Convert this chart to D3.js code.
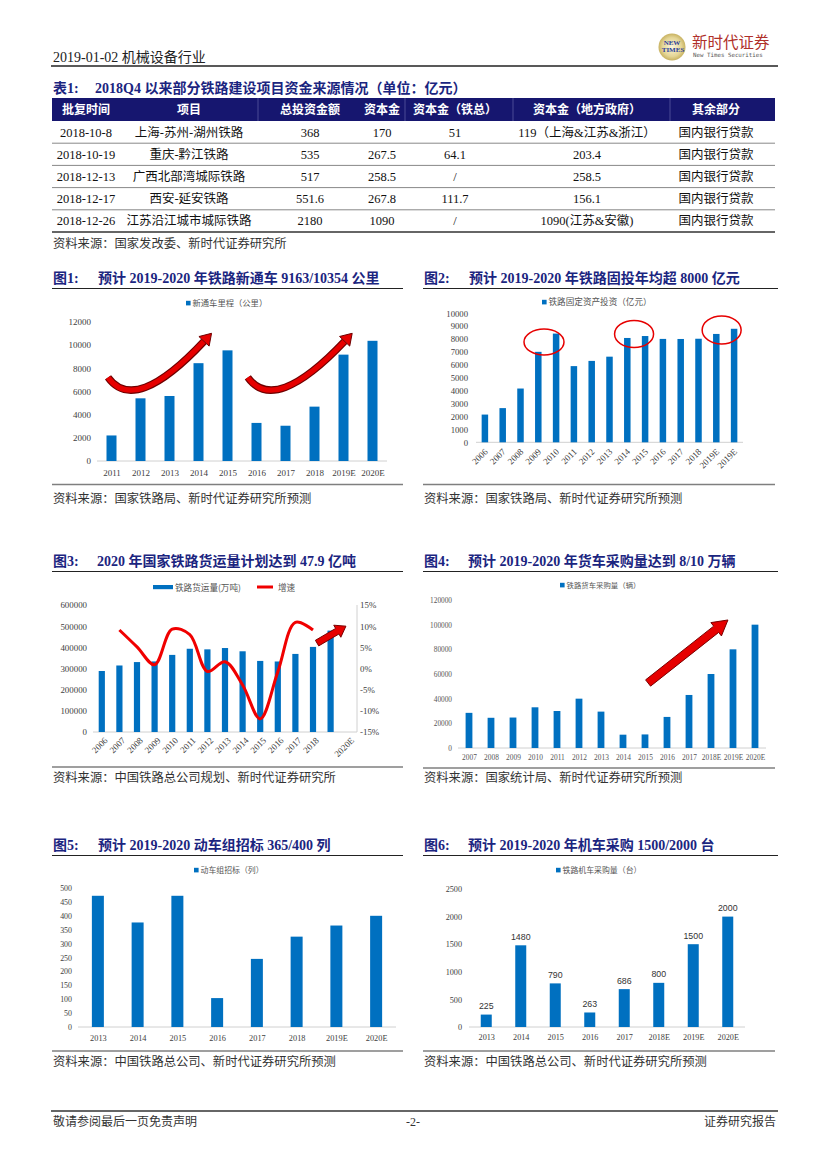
<!DOCTYPE html>
<html>
<head>
<meta charset="utf-8">
<script src="https://cdn.jsdelivr.net/npm/d3@7"></script>
<style>
  body { margin: 0; background: #fff; }
  svg text { font-family: "Liberation Serif", "Noto Sans CJK SC", serif; }
</style>
</head>
<body>
<svg id="page" width="827" height="1169"></svg>
<script>
// ---- data ----
const headerDate = "2019-01-02";
const headerIndustry = "机械设备行业";

const tableColumns = ["批复时间", "项目", "总投资金额", "资本金", "资本金（铁总）", "资本金（地方政府）", "其余部分"];
const tableDates = ["2018-10-8", "2018-10-19", "2018-12-13", "2018-12-17", "2018-12-26"];
const tableProjects = ["上海-苏州-湖州铁路", "重庆-黔江铁路", "广西北部湾城际铁路", "西安-延安铁路", "江苏沿江城市城际铁路"];
const tableTotal = ["368", "535", "517", "551.6", "2180"];
const tableCapital = ["170", "267.5", "258.5", "267.8", "1090"];
const tableCapitalRail = ["51", "64.1", "/", "111.7", "/"];
const tableCapitalLocal = ["119（上海&江苏&浙江）", "203.4", "258.5", "156.1", "1090(江苏&安徽)"];
const tableOther = ["国内银行贷款", "国内银行贷款", "国内银行贷款", "国内银行贷款", "国内银行贷款"];

const mileageYears = ["2011", "2012", "2013", "2014", "2015", "2016", "2017", "2018", "2019E", "2020E"];
const mileageKm = [2200, 5400, 5600, 8427, 9531, 3281, 3038, 4683, 9163, 10354];
const mileageTicks = [0, 2000, 4000, 6000, 8000, 10000, 12000];

const investYears = ["2006", "2007", "2008", "2009", "2010", "2011", "2012", "2013", "2014", "2015", "2016", "2017", "2018", "2019E", "2019E"];
const investValues = [2150, 2650, 4168, 7013, 8427, 5906, 6310, 6638, 8088, 8238, 8015, 8010, 8028, 8400, 8800];
const investTicks = [0, 1000, 2000, 3000, 4000, 5000, 6000, 7000, 8000, 9000, 10000];

const freightYears = ["2006", "2007", "2008", "2009", "2010", "2011", "2012", "2013", "2014", "2015", "2016", "2017", "2018", "", "2020E"];
const freightVolume = [288224, 314237, 330354, 333348, 364271, 393263, 390438, 396697, 381334, 335801, 333186, 368865, 402000, null, 479000];
const freightGrowth = [null, 9.1, 5.1, 0.9, 9.3, 8.0, -0.7, 1.6, -3.9, -11.9, -0.8, 10.9, 9.1, null, null];
const freightTicks = [0, 100000, 200000, 300000, 400000, 500000, 600000];
const growthTicks = [-15, -10, -5, 0, 5, 10, 15];

const wagonYears = ["2007", "2008", "2009", "2010", "2011", "2012", "2013", "2014", "2015", "2016", "2017", "2018E", "2019E", "2020E"];
const wagonCount = [28500, 24500, 24700, 33000, 30000, 40000, 29500, 10800, 11000, 25200, 43000, 60000, 80000, 100000];
const wagonTicks = [0, 20000, 40000, 60000, 80000, 100000, 120000];

const emuYears = ["2013", "2014", "2015", "2016", "2017", "2018", "2019E", "2020E"];
const emuSets = [472, 376, 472, 104, 245, 325, 365, 400];
const emuTicks = [0, 50, 100, 150, 200, 250, 300, 350, 400, 450, 500];

const locoYears = ["2013", "2014", "2015", "2016", "2017", "2018E", "2019E", "2020E"];
const locoCount = [225, 1480, 790, 263, 686, 800, 1500, 2000];
const locoTicks = [0, 500, 1000, 1500, 2000, 2500];

const BLUE = "#0070c0";
const NAVY = "#1b2580";
const SANS = '"Liberation Sans", "Noto Sans CJK SC", sans-serif';

const svg = d3.select("#page");

// ---- page header ----
svg.append("text").attr("x", 53).attr("y", 62).style("font-size", "14px").attr("fill", "#222")
  .text(headerDate + "  " + headerIndustry);
svg.append("line").attr("x1", 51).attr("x2", 778).attr("y1", 66).attr("y2", 66)
  .attr("stroke", "#222").attr("stroke-width", 1.3);

// logo
const defs = svg.append("defs");
const rg = defs.append("radialGradient").attr("id", "logoGrad");
rg.append("stop").attr("offset", "0%").attr("stop-color", "#fbf6da");
rg.append("stop").attr("offset", "70%").attr("stop-color", "#e4d595");
rg.append("stop").attr("offset", "100%").attr("stop-color", "#c8b261");
const logo = svg.append("g");
logo.append("circle").attr("cx", 672).attr("cy", 47).attr("r", 13.5).attr("fill", "url(#logoGrad)");
logo.append("text").attr("x", 672).attr("y", 45).attr("text-anchor", "middle")
  .style("font-size", "7px").style("font-weight", "bold").attr("fill", "#2a3f9a").text("NEW");
logo.append("text").attr("x", 673).attr("y", 52).attr("text-anchor", "middle")
  .style("font-size", "7px").style("font-weight", "bold").attr("fill", "#2a3f9a").text("TIMES");
logo.append("text").attr("x", 692).attr("y", 48).style("font-size", "15.5px")
  .style("font-family", '"Noto Sans CJK SC"').attr("fill", "#b0302a").text("新时代证券");
logo.append("text").attr("x", 693).attr("y", 57).style("font-size", "5.8px")
  .style("font-family", '"DejaVu Sans Mono", monospace').attr("fill", "#555").text("New Times Securities");

// ---- table ----
function title(x, y, label, text, lineX1, lineX2, textX) {
  svg.append("text").attr("x", x).attr("y", y).attr("fill", NAVY)
    .style("font-size", "14px").style("font-weight", "bold").text(label);
  svg.append("text").attr("x", textX).attr("y", y).attr("fill", NAVY)
    .style("font-size", "14px").style("font-weight", "bold").text(text);
  if (lineX1 != null) {
    svg.append("line").attr("x1", lineX1).attr("x2", lineX2).attr("y1", y + 5.5).attr("y2", y + 5.5)
      .attr("stroke", "#222").attr("stroke-width", 1.2);
  }
}
function source(x, y, text) {
  svg.append("text").attr("x", x).attr("y", y).attr("fill", "#333")
    .style("font-size", "12.3px").text(text);
}
function sourceLine(x1, x2, y) {
  svg.append("line").attr("x1", x1).attr("x2", x2).attr("y1", y).attr("y2", y)
    .attr("stroke", "#7f7f7f").attr("stroke-width", 1.6);
}

title(53, 93, "表1:", "2018Q4 以来部分铁路建设项目资金来源情况（单位：亿元）", null, null, 95);

const colCenters = [86, 189, 310, 382, 455, 587, 716];
const tableX = [52, 775];
const headTop = 98, headH = 23, rowH = 22.2;
svg.append("rect").attr("x", tableX[0]).attr("y", headTop).attr("width", tableX[1] - tableX[0])
  .attr("height", headH).attr("fill", "#16166f");
[258, 405, 513, 670].forEach(cx => {
  svg.append("line").attr("x1", cx).attr("x2", cx).attr("y1", headTop).attr("y2", headTop + headH)
    .attr("stroke", "#4a4a96").attr("stroke-width", 1);
});
svg.append("g").selectAll("text").data(tableColumns).join("text")
  .attr("x", (d, i) => colCenters[i]).attr("y", headTop + 16)
  .attr("text-anchor", "middle").attr("fill", "#fff")
  .style("font-size", "12px").style("font-weight", "bold").text(d => d);

const tableCols = [tableDates, tableProjects, tableTotal, tableCapital, tableCapitalRail, tableCapitalLocal, tableOther];
tableDates.forEach((_, r) => {
  const top = headTop + headH + r * rowH;
  tableCols.forEach((col, c) => {
    svg.append("text").attr("x", colCenters[c]).attr("y", top + 15.5).attr("text-anchor", "middle")
      .attr("fill", "#111").style("font-size", "12.5px").text(col[r]);
  });
  const last = r === tableDates.length - 1;
  svg.append("line").attr("x1", tableX[0]).attr("x2", tableX[1])
    .attr("y1", top + rowH).attr("y2", top + rowH)
    .attr("stroke", last ? "#333" : "#888").attr("stroke-width", last ? 1.4 : 1);
});
source(53, 248, "资料来源：国家发改委、新时代证券研究所");

// ---- generic bar chart ----
function barChart(o) {
  const g = svg.append("g");
  const x = d3.scalePoint().domain(d3.range(o.labels.length)).range(o.xRange).padding(0.5);
  const y = d3.scaleLinear().domain([0, d3.max(o.yTicks)]).range(o.yRange);

  g.append("line").attr("x1", o.xRange[0]).attr("x2", o.xRange[1])
    .attr("y1", y(0)).attr("y2", y(0)).attr("stroke", "#d0d0d0");

  const ya = g.append("g").attr("transform", `translate(${o.yLabelX},0)`)
    .call(d3.axisLeft(y).tickValues(o.yTicks).tickSize(0).tickPadding(0).tickFormat(d3.format("d")));
  ya.attr("font-family", null).attr("font-size", null);
  ya.selectAll("text").style("font-size", o.fs + "px").attr("fill", o.tickColor || "#404040");
  ya.select(".domain").remove();

  g.selectAll("rect.bar").data(o.values).join("rect").attr("class", "bar")
    .filter(d => d != null)
    .attr("x", (d, i) => x(i) - o.barW / 2).attr("width", o.barW)
    .attr("y", d => y(d)).attr("height", d => y(0) - y(d)).attr("fill", BLUE);

  const xa = g.append("g").attr("transform", `translate(0,${y(0)})`)
    .call(d3.axisBottom(x).tickSize(0).tickPadding(0).tickFormat(i => o.labels[i]));
  xa.attr("font-family", null).attr("font-size", null);
  xa.select(".domain").remove();
  const xt = xa.selectAll("text").style("font-size", o.xfs + "px").attr("fill", o.tickColor || "#404040");
  if (o.rotate) {
    xt.attr("y", 0).attr("dy", 0).style("text-anchor", "end")
      .attr("transform", `translate(${o.rotate[0]},${o.rotate[1]}) rotate(-45)`);
  } else {
    xt.attr("dy", 0).attr("y", o.xLabelY - y(0));
  }

  // legend
  if (o.legend) {
    g.append("rect").attr("x", o.legend[0]).attr("y", o.legend[1] - 5.2).attr("width", 4.6).attr("height", 4.6).attr("fill", BLUE);
    g.append("text").attr("x", o.legend[0] + 6.5).attr("y", o.legend[1]).attr("fill", "#555")
      .style("font-size", o.legendFs + "px").style("font-family", '"Noto Sans CJK SC"').text(o.legendText);
  }
  return { g, x, y };
}

function curvedArrow(g, pts) {
  const [p0, p1, p2] = pts;
  const dx = p2[0] - p1[0], dy = p2[1] - p1[1], L = Math.hypot(dx, dy);
  const ux = dx / L, uy = dy / L, nx = -uy, ny = ux;
  const hl = 11, hw = 14;
  const b = [p2[0] - ux * hl, p2[1] - uy * hl];
  const ctl = [p1[0], p1[1]];
  const d = `M${p0[0]},${p0[1]} Q${ctl[0]},${ctl[1]} ${b[0]},${b[1]}`;
  g.append("path").attr("d", d).attr("fill", "none").attr("stroke", "#6e0000").attr("stroke-width", 7.5);
  g.append("path").attr("d", d).attr("fill", "none").attr("stroke", "#e60000").attr("stroke-width", 5.2);
  const head = [[b[0] + nx * hw / 2, b[1] + ny * hw / 2], p2, [b[0] - nx * hw / 2, b[1] - ny * hw / 2]];
  g.append("path").attr("d", d3.line()(head) + "Z").attr("fill", "#e60000")
    .attr("stroke", "#6e0000").attr("stroke-width", 1);
}

function fatArrow(g, p0, p1, shaft, head, headLen) {
  const dx = p1[0] - p0[0], dy = p1[1] - p0[1], L = Math.hypot(dx, dy);
  const ux = dx / L, uy = dy / L, nx = -uy, ny = ux;
  const bx = p1[0] - ux * headLen, by = p1[1] - uy * headLen;
  const pts = [
    [p0[0] + nx * shaft / 2, p0[1] + ny * shaft / 2],
    [bx + nx * shaft / 2, by + ny * shaft / 2],
    [bx + nx * head / 2, by + ny * head / 2],
    p1,
    [bx - nx * head / 2, by - ny * head / 2],
    [bx - nx * shaft / 2, by - ny * shaft / 2],
    [p0[0] - nx * shaft / 2, p0[1] - ny * shaft / 2]
  ];
  g.append("path").attr("d", d3.line()(pts) + "Z").attr("fill", "#e60000")
    .attr("stroke", "#7a0000").attr("stroke-width", 1);
}

// ---- 图1 ----
title(53, 283, "图1:", "预计 2019-2020 年铁路新通车 9163/10354 公里", 52, 403, 98);
const c1 = barChart({
  labels: mileageYears, values: mileageKm, yTicks: mileageTicks,
  xRange: [97, 387], yRange: [461, 321.7], yLabelX: 91, barW: 10, fs: 9, xfs: 9, xLabelY: 476,
  legend: [186, 306], legendText: "新通车里程（公里）", legendFs: 8.3
});
const px1 = (i, v) => [c1.x(0) + i * c1.x.step(), c1.y(v)];
curvedArrow(c1.g, [px1(-0.12, 7200), px1(0.81, 3960), px1(3.45, 11000)]);
curvedArrow(c1.g, [px1(4.7, 7200), px1(5.63, 3960), px1(8.3, 11000)]);
sourceLine(52, 403, 484.5);
source(53, 503, "资料来源：国家铁路局、新时代证券研究所预测");

// ---- 图2 ----
title(424, 283, "图2:", "预计 2019-2020 年铁路固投年均超 8000 亿元", 423, 778, 469);
const c2 = barChart({
  labels: investYears, values: investValues, yTicks: investTicks,
  xRange: [476, 743], yRange: [442.3, 313.3], yLabelX: 468, barW: 6.5, fs: 8.7, xfs: 9,
  rotate: [3, 10],
  legend: [542, 305], legendText: "铁路固定资产投资（亿元）", legendFs: 8.6
});
const px2 = (i, v) => [c2.x(0) + i * c2.x.step(), c2.y(v)];
[[3.32, 7775, 20, 13], [8.38, 8395, 19.5, 13.5], [13.3, 8705, 19.5, 14]].forEach(([i, v, rx, ry]) => {
  const p = px2(i, v);
  c2.g.append("ellipse").attr("cx", p[0]).attr("cy", p[1]).attr("rx", rx).attr("ry", ry)
    .attr("fill", "none").attr("stroke", "#e60000").attr("stroke-width", 1.5);
});
sourceLine(423, 775, 484.5);
source(424, 503, "资料来源：国家铁路局、新时代证券研究所预测");

// ---- 图3 ----
title(53, 566, "图3:", "2020 年国家铁路货运量计划达到 47.9 亿吨", 52, 403, 97);
const c3 = barChart({
  labels: freightYears, values: freightVolume, yTicks: freightTicks,
  xRange: [93, 357], yRange: [732, 605], yLabelX: 87, barW: 6.2, fs: 8.9, xfs: 9,
  rotate: [6, 9]
});
const y3r = d3.scaleLinear().domain([-15, 15]).range([732, 605]);
c3.g.append("line").attr("x1", 357).attr("x2", 357).attr("y1", 605).attr("y2", 732).attr("stroke", "#d0d0d0");
const ra = c3.g.append("g").attr("transform", "translate(360,0)")
  .call(d3.axisRight(y3r).tickValues(growthTicks).tickSize(0).tickPadding(0).tickFormat(d => d + "%"));
ra.attr("font-family", null).attr("font-size", null);
ra.selectAll("text").style("font-size", "8.9px").attr("fill", "#404040");
ra.select(".domain").remove();
const growthLine = d3.line().defined(d => d != null)
  .x((d, i) => c3.x(i)).y(d => y3r(d)).curve(d3.curveCatmullRom.alpha(0.5));
c3.g.append("path").attr("d", growthLine(freightGrowth)).attr("fill", "none")
  .attr("stroke", "#f00000").attr("stroke-width", 3);
// legend
c3.g.append("rect").attr("x", 153).attr("y", 585).attr("width", 20).attr("height", 4.2).attr("fill", BLUE);
c3.g.append("text").attr("x", 175).attr("y", 590.5).attr("fill", "#555").style("font-size", "8.6px")
  .style("font-family", '"Noto Sans CJK SC"').text("铁路货运量(万吨)");
c3.g.append("line").attr("x1", 257).attr("x2", 273).attr("y1", 587).attr("y2", 587)
  .attr("stroke", "#f00000").attr("stroke-width", 3);
c3.g.append("text").attr("x", 278).attr("y", 590.5).attr("fill", "#555").style("font-size", "8.6px")
  .style("font-family", '"Noto Sans CJK SC"').text("增速");
const px3 = (i, v) => [c3.x(0) + i * c3.x.step(), c3.y(v)];
fatArrow(c3.g, px3(12.23, 420000), px3(13.87, 500000), 6.5, 14, 10);
sourceLine(52, 403, 767);
source(53, 782, "资料来源：中国铁路总公司规划、新时代证券研究所");

// ---- 图4 ----
title(424, 566, "图4:", "预计 2019-2020 年货车采购量达到 8/10 万辆", 423, 778, 468);
const c4 = barChart({
  labels: wagonYears, values: wagonCount, yTicks: wagonTicks,
  xRange: [458, 766], yRange: [748, 600], yLabelX: 452, barW: 6.8, fs: 7.3, xfs: 7.4, xLabelY: 760,
  tickColor: "#555",
  legend: [560, 588], legendText: "铁路货车采购量（辆）", legendFs: 7.4
});
const px4 = (i, v) => [c4.x(0) + i * c4.x.step(), c4.y(v)];
fatArrow(c4.g, px4(8.14, 52700), px4(11.77, 103800), 8, 17, 15);
sourceLine(423, 775, 768);
source(424, 782, "资料来源：国家统计局、新时代证券研究所预测");

// ---- 图5 ----
title(53, 850, "图5:", "预计 2019-2020 动车组招标 365/400 列", 52, 403, 98);
barChart({
  labels: emuYears, values: emuSets, yTicks: emuTicks,
  xRange: [78, 396], yRange: [1027, 888], yLabelX: 72, barW: 12, fs: 7.9, xfs: 8.3, xLabelY: 1041,
  legend: [194, 873], legendText: "动车组招标（列）", legendFs: 7.9
});
sourceLine(52, 403, 1051);
source(53, 1066, "资料来源：中国铁路总公司、新时代证券研究所预测");

// ---- 图6 ----
title(424, 850, "图6:", "预计 2019-2020 年机车采购 1500/2000 台", 423, 778, 468);
const c6 = barChart({
  labels: locoYears, values: locoCount, yTicks: locoTicks,
  xRange: [469, 745], yRange: [1027, 889], yLabelX: 462, barW: 11, fs: 8.2, xfs: 8.2, xLabelY: 1040,
  legend: [556, 873], legendText: "铁路机车采购量（台）", legendFs: 7.9
});
c6.g.selectAll("text.val").data(locoCount).join("text").attr("class", "val")
  .attr("x", (d, i) => c6.x(i)).attr("y", d => c6.y(d) - 5.5).attr("text-anchor", "middle")
  .style("font-family", SANS).style("font-size", "8.8px").attr("fill", "#333").text(d => d);
sourceLine(423, 775, 1051);
source(424, 1066, "资料来源：中国铁路总公司、新时代证券研究所预测");

// ---- footer ----
svg.append("line").attr("x1", 51).attr("x2", 778).attr("y1", 1111).attr("y2", 1111)
  .attr("stroke", "#333").attr("stroke-width", 1.4);
svg.append("text").attr("x", 53).attr("y", 1126).style("font-size", "12px").attr("fill", "#333").text("敬请参阅最后一页免责声明");
svg.append("text").attr("x", 413).attr("y", 1126).attr("text-anchor", "middle").style("font-size", "12px").attr("fill", "#333").text("-2-");
svg.append("text").attr("x", 776).attr("y", 1126).attr("text-anchor", "end").style("font-size", "12px").attr("fill", "#333").text("证券研究报告");
</script>
</body>
</html>
